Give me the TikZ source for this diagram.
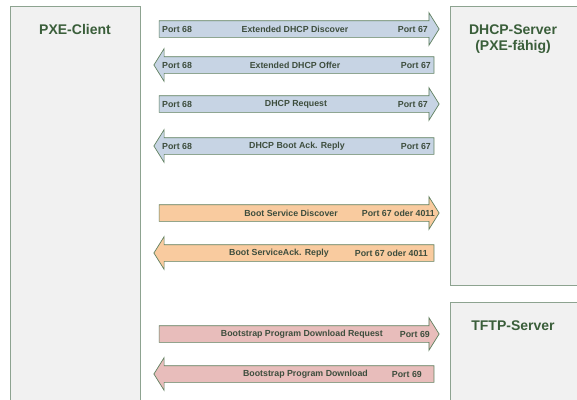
\documentclass[tikz,border=0pt]{standalone}
\usepackage{fontspec}
\setmainfont{Liberation Sans}
\usetikzlibrary{shapes.arrows}
\definecolor{boxfill}{HTML}{F1F1F1}
\definecolor{boxline}{HTML}{8DA390}
\definecolor{arrline}{HTML}{5E7F5E}
\definecolor{titlecol}{HTML}{3A5E3A}
\definecolor{txtcol}{HTML}{3D4D3D}
\definecolor{blu}{HTML}{C7D4E4}
\definecolor{ora}{HTML}{F9CB9F}
\definecolor{pnk}{HTML}{E8BDBB}
\tikzset{
  hostbox/.style={draw=boxline, fill=boxfill, line width=1.4pt, anchor=north west, inner sep=0pt},
  hosttitle/.style={text=titlecol, font=\bfseries\fontsize{14}{16}\selectfont, align=center, anchor=north},
  msgarrow/.style={single arrow, draw=arrline, line width=0.7pt, minimum height=280pt,
    minimum width=32pt, single arrow head extend=8pt, inner xsep=0pt, inner ysep=8pt,
    text height=0pt, text depth=0pt, shape border uses incircle=false,
    single arrow tip angle=116},
  rarr/.style={msgarrow},
  larr/.style={msgarrow, shape border rotate=180},
  lbl/.style={text=txtcol, font=\bfseries\fontsize{8.8}{10}\selectfont, inner sep=0pt},
}
\begin{document}
\begin{tikzpicture}[x=1pt,y=-1pt]
\useasboundingbox (0,0) rectangle (577,399);
\clip (0,0) rectangle (577,399);
\fill[white] (0,0) rectangle (577,399);
% hosts
\node[hostbox, minimum width=130pt, minimum height=410pt] (client) at (10,6) {};
\node[hostbox, minimum width=140pt, minimum height=279pt] (dhcp) at (450,6) {};
\node[hostbox, minimum width=140pt, minimum height=110pt] (tftp) at (450,302) {};
\node[hosttitle] (clientT) at (75,21) {PXE-Client};
\node[hosttitle] (dhcpT) at (513,21) {DHCP-Server\\(PXE-fähig)};
\node[hosttitle] (tftpT) at (513,317) {TFTP-Server};
% arrows
\node[rarr, fill=blu] (m1) at (296.5,29) {};
\node[larr, fill=blu] (m2) at (296.5,65) {};
\node[rarr, fill=blu] (m3) at (296.5,104) {};
\node[larr, fill=blu] (m4) at (296.5,146) {};
\node[rarr, fill=ora] (m5) at (296.5,213) {};
\node[larr, fill=ora] (m6) at (296.5,253) {};
\node[rarr, fill=pnk] (m7) at (296.5,334) {};
\node[larr, fill=pnk] (m8) at (296.5,374) {};
% labels
\node[lbl, anchor=west] (m1a) at (162,29) {Port 68};
\node[lbl] (m1b) at (295,29) {Extended DHCP Discover};
\node[lbl, anchor=east] (m1c) at (428,29) {Port 67};
\node[lbl, anchor=west] (m2a) at (162,65) {Port 68};
\node[lbl] (m2b) at (295,65) {Extended DHCP Offer};
\node[lbl, anchor=east] (m2c) at (431,65) {Port 67};
\node[lbl, anchor=west] (m3a) at (162,104) {Port 68};
\node[lbl] (m3b) at (296,104) {DHCP Request};
\node[lbl, anchor=east] (m3c) at (428,104) {Port 67};
\node[lbl, anchor=west] (m4a) at (162,146) {Port 68};
\node[lbl] (m4b) at (297,146) {DHCP Boot Ack. Reply};
\node[lbl, anchor=east] (m4c) at (431,146) {Port 67};
\node[lbl, anchor=east] (m5b) at (338,213) {Boot Service Discover};
\node[lbl, anchor=east] (m5c) at (435,213) {Port 67 oder 4011};
\node[lbl, anchor=east] (m6b) at (329,253) {Boot ServiceAck. Reply};
\node[lbl, anchor=east] (m6c) at (428,253) {Port 67 oder 4011};
\node[lbl, anchor=east] (m7b) at (383,334) {Bootstrap Program Download Request};
\node[lbl, anchor=east] (m7c) at (430,334) {Port 69};
\node[lbl, anchor=east] (m8b) at (368,374) {Bootstrap Program Download};
\node[lbl, anchor=east] (m8c) at (422,374) {Port 69};
\end{tikzpicture}
\end{document}
